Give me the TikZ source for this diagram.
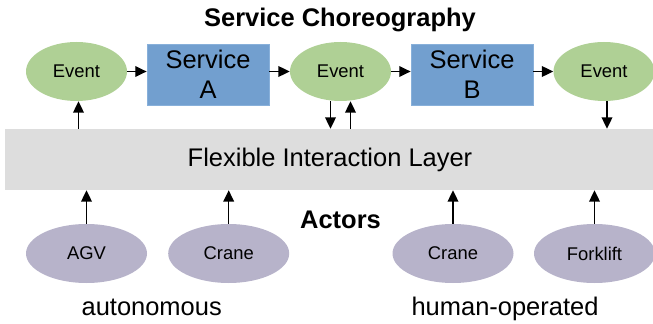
\documentclass[tikz,border=0pt]{standalone}
\usepackage{fontspec}
\setmainfont{Liberation Sans}
\usetikzlibrary{shapes.geometric,arrows.meta}
\definecolor{evgreen}{HTML}{AFD095}
\definecolor{svblue}{HTML}{729FCF}
\definecolor{svline}{HTML}{88B0DA}
\definecolor{laygray}{HTML}{DDDDDD}
\definecolor{actlav}{HTML}{B7B3CA}
\newcommand{\bigtxt}{\fontsize{19.1pt}{22.5pt}\selectfont}
\newcommand{\smalltxt}{\fontsize{13.8pt}{16pt}\selectfont}
\begin{document}
\begin{tikzpicture}[x=0.75pt,y=-0.75pt,
  eventnode/.style={ellipse,fill=evgreen,inner sep=0pt,minimum width=75.75pt,minimum height=44.25pt,font=\smalltxt},
  servicenode/.style={rectangle,fill=svblue,draw=svline,line width=0.6pt,inner sep=0pt,minimum width=91.5pt,minimum height=45.75pt,align=center,font=\bigtxt},
  actornode/.style={ellipse,fill=actlav,inner sep=0pt,minimum width=90.75pt,minimum height=44.25pt,font=\smalltxt},
  layernode/.style={rectangle,fill=laygray,inner sep=0pt,minimum width=486pt,minimum height=45.75pt,font=\bigtxt},
  heading/.style={anchor=base,font=\bigtxt\bfseries,inner sep=0pt},
  caption/.style={anchor=base,font=\bigtxt,inner sep=0pt},
  arr/.style={-{Triangle[length=8.5pt,width=8pt]},line width=1pt}]
\useasboundingbox (0,0) rectangle (653,324);
% title
\node[heading] (title) at (340,26.5) {Service Choreography};
% top row
\node[eventnode] (ev1) at (76.5,71.5) {Event};
\node[servicenode] (svcA) at (208,74.5) {Service\\A};
\node[eventnode] (ev2) at (340.5,71.5) {Event};
\node[servicenode] (svcB) at (472,74.5) {Service\\B};
\node[eventnode] (ev3) at (604,71.5) {Event};
% layer
\node[layernode] (layer) at (329,159.5) {\hspace*{1.5pt}Flexible Interaction Layer};
% actors
\node[heading] (actors) at (340.5,228.3) {Actors};
\node[actornode] (agv) at (86.5,253.5) {AGV};
\node[actornode] (crane1) at (228.7,253.5) {Crane};
\node[actornode] (crane2) at (453,253.5) {Crane};
\node[actornode] (fork) at (594.5,253.5) {Forklift};
\node[caption] (auto) at (151.7,315) {autonomous};
\node[caption] (human) at (505,315) {human-operated};
% horizontal arrows
\draw[arr] (ev1.east) -- (ev1.east -| svcA.west);
\draw[arr] (svcA.east |- ev2) -- (ev2.west);
\draw[arr] (ev2.east) -- (ev2.east -| svcB.west);
\draw[arr] (svcB.east |- ev3) -- (ev3.west);
% vertical arrows layer <-> events
\draw[arr] ([xshift=1.5pt]ev1.south |- layer.north) -- ([xshift=1.5pt]ev1.south);
\draw[arr] ([xshift=-7.5pt]ev2.south) -- ([xshift=-7.5pt]ev2.south |- layer.north);
\draw[arr] ([xshift=7.5pt]ev2.south |- layer.north) -- ([xshift=7.5pt]ev2.south);
\draw[arr] ([xshift=2.25pt]ev3.south) -- ([xshift=2.25pt]ev3.south |- layer.north);
% actors -> layer
\draw[arr] (agv.north) -- (agv.north |- layer.south);
\draw[arr] (crane1.north) -- (crane1.north |- layer.south);
\draw[arr] (crane2.north) -- (crane2.north |- layer.south);
\draw[arr] (fork.north) -- (fork.north |- layer.south);
\end{tikzpicture}
\end{document}
